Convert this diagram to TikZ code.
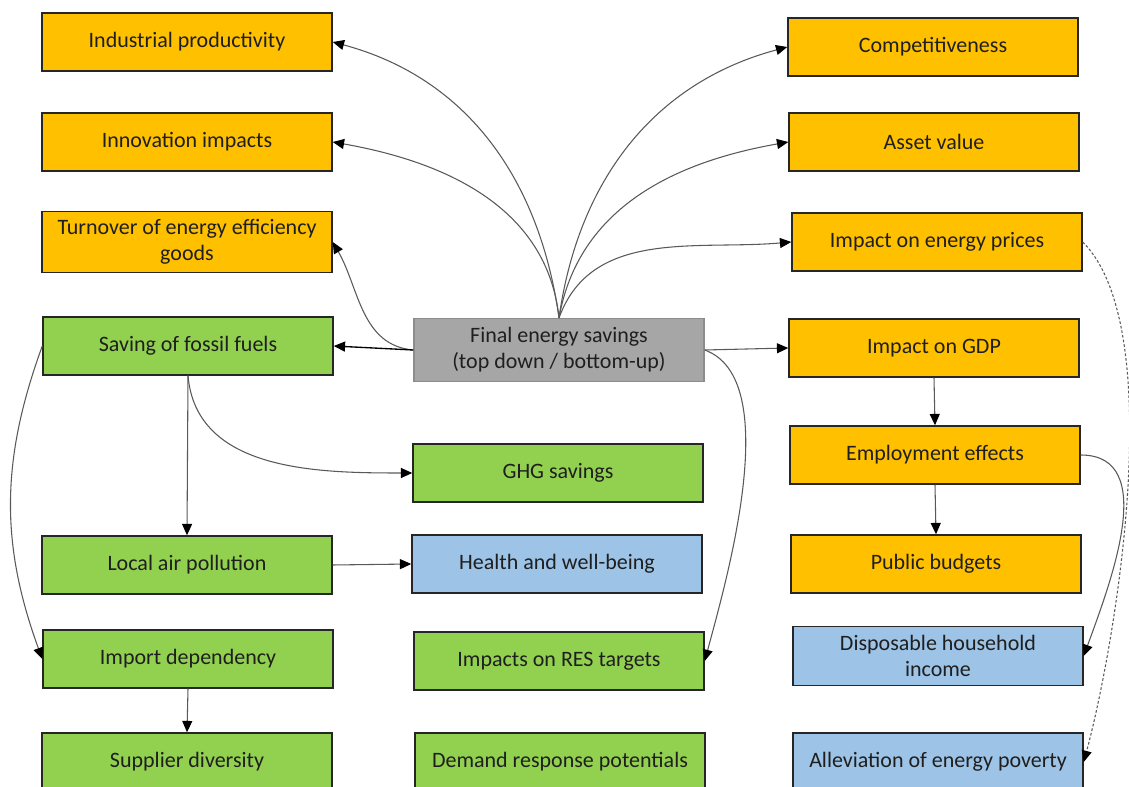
\documentclass[tikz,border=0pt]{standalone}
\usepackage{fontspec}
\setmainfont{Carlito}
\usepackage{xcolor}
\usetikzlibrary{arrows.meta}

\definecolor{boxorange}{HTML}{FFC000}
\definecolor{boxgreen}{HTML}{92D050}
\definecolor{boxblue}{HTML}{9DC3E6}
\definecolor{boxgray}{HTML}{A6A6A6}
\definecolor{grayedge}{HTML}{8C8C8C}
\definecolor{boxedge}{HTML}{262626}
\definecolor{linegray}{HTML}{595959}

\begin{document}
\begin{tikzpicture}[x=0.75pt, y=-0.75pt,
  box/.style={rectangle, minimum width=217.5pt, minimum height=43.5pt, inner sep=2pt, text centered, align=center, draw=boxedge, line width=1.1pt, text=black!88, font=\fontsize{16.5}{19.5}\selectfont},
  orangebox/.style={box, fill=boxorange},
  greenbox/.style={box, fill=boxgreen},
  bluebox/.style={box, fill=boxblue},
  graybox/.style={box, fill=boxgray, draw=grayedge, minimum height=47pt},
  arr/.style={-{Triangle[length=8.5pt, width=7.5pt, color=black]}, draw=linegray, line width=0.8pt},
  dasharr/.style={arr, dash pattern=on 2pt off 1.5pt}]

\useasboundingbox (0,0) rectangle (1129,787);
\clip (0,0) rectangle (1129,787);

% Nodes
\node (indprod) [orangebox] at (187,42) {Industrial productivity};
\node (innov) [orangebox] at (187,142) {Innovation impacts};
\node (turnover) [orangebox, minimum height=45.5pt] at (187,242) {Turnover of energy efficiency\\goods};
\node (fossil) [greenbox] at (188,346) {Saving of fossil fuels};
\node (airpoll) [greenbox] at (187,565) {Local air pollution};
\node (importdep) [greenbox] at (188,659) {Import dependency};
\node (supplier) [greenbox] at (187,762) {Supplier diversity};

\node (final) [graybox] at (559,350) {Final energy savings\\(top down / bottom-up)};
\node (ghg) [greenbox] at (558,473) {GHG savings};
\node (health) [bluebox] at (557,564) {Health and well-being};
\node (res) [greenbox] at (559,661) {Impacts on RES targets};
\node (demand) [greenbox] at (560,762) {Demand response potentials};

\node (compet) [orangebox] at (933,47) {Competitiveness};
\node (asset) [orangebox] at (934,142) {Asset value};
\node (prices) [orangebox] at (937,242) {Impact on energy prices};
\node (gdp) [orangebox] at (934,348) {Impact on GDP};
\node (employ) [orangebox] at (935,455) {Employment effects};
\node (public) [orangebox] at (936,564) {Public budgets};
\node (dispos) [bluebox, minimum height=44.5pt] at (938,656) {Disposable household\\income};
\node (poverty) [bluebox] at (938,762) {Alleviation of energy poverty};

% Arrows
\draw [arr] (final.north) to[out=98, in=-15] (indprod.east);
\draw [arr] (final.north) to[out=96, in=-10] (innov.east);
\draw [arr] (final.north) to[out=82, in=195] (compet.west);
\draw [arr] (final.north) to[out=80, in=190] (asset.west);
\draw [arr] (final.north) to[out=70, in=185] (prices.west);
\draw [arr] (final.west) to[out=175, in=-60] (turnover.east);
\draw [arr, draw=black, line width=1pt] (final.west) -- (fossil.east);
\draw [arr] (final.east) -- (gdp.west);
\draw [arr] (final.east) to[out=-20, in=75, looseness=0.7] (res.east);

\draw [arr] (fossil.south) -- (airpoll.north);
\draw [arr] (fossil.south) to[out=-85, in=180] (ghg.west);
\draw [arr] (fossil.west) to[out=250, in=110] (importdep.west);
\draw [arr] (airpoll.east) -- (health.west);
\draw [arr] (importdep.south) -- (supplier.north);

\draw [arr] (gdp.south) -- (employ.north);
\draw [arr] (employ.south) -- (public.north);
\draw [arr] (employ.east) to[out=0, in=70] (dispos.east);
\draw [dasharr] (prices.east) to[out=-45, in=75, looseness=0.6] (poverty.east);

\end{tikzpicture}
\end{document}
